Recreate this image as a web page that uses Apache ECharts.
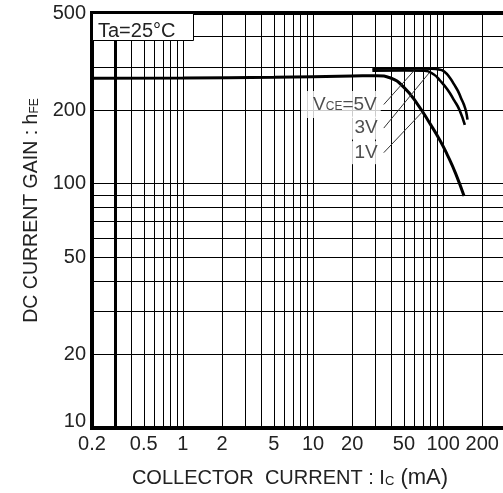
<!DOCTYPE html>
<html>
<head>
<meta charset="utf-8">
<script src="https://cdn.jsdelivr.net/npm/echarts@6/dist/echarts.min.js"></script>
<style>
html, body { margin: 0; padding: 0; background: #fff; }
#chart { width: 503px; height: 493px; }
</style>
</head>
<body>
<div id="chart"></div>
<script>
// tick labels and grid line values
var xTickLabels = [0.2, 0.5, 1, 2, 5, 10, 20, 50, 100, 200];
var yTickLabels = [10, 20, 50, 100, 200, 500];
var xGridValues = [0.3, 0.4, 0.5, 0.6, 0.7, 0.8, 0.9, 1, 2, 3, 4, 5, 6, 7, 8, 9,
  10, 20, 30, 40, 50, 60, 70, 80, 90, 100, 200, 300, 400];
var yGridValues = [20, 30, 40, 50, 60, 70, 80, 90, 100, 200, 300, 400];

// hFE curves (Ic in mA)
var ic1V = [0.2, 1, 5, 20, 31, 39.5, 50, 63.5, 80, 95, 108, 125, 145];
var hfe1V = [270, 271, 273, 276, 277, 271, 248, 212, 175, 150, 131, 110, 89];
var ic3V = [28.6, 50, 72, 85, 95, 108, 122, 134, 147];
var hfe3V = [290, 291, 290, 280, 264, 243, 219, 200, 174];
var ic5V = [28.6, 50, 80, 95, 102, 112, 121.5, 130, 137, 145, 150, 154];
var hfe5V = [296, 297, 296, 293, 288, 273, 255, 240, 225, 210, 198, 183];

// leader lines from labels to curves
var leader5V = [[35, 211], [60, 291]];
var leader3V = [[35, 169], [78, 284]];
var leader1V = [[35, 134], [70, 198]];

var font = 'Liberation Sans, Arial, sans-serif';
var txt = '#222';

function zip(xs, ys) {
  return xs.map(function (x, i) { return [x, ys[i]]; });
}
function fmt(v) {
  return String(+(+v).toPrecision(6));
}

var chart = echarts.init(document.getElementById('chart'));

chart.setOption({
  animation: false,
  textStyle: { fontFamily: font },
  title: {
    text: 'Ta=25°C',
    left: 92,
    top: 13,
    backgroundColor: '#fff',
    borderColor: '#000',
    borderWidth: 1,
    padding: [8, 18, 0, 6],
    textStyle: { fontSize: 20, lineHeight: 20, fontWeight: 'normal', color: txt, fontFamily: font }
  },
  grid: {
    left: 92,
    top: 13,
    right: -31,
    bottom: 65,
    outerBoundsMode: 'none',
    containLabel: false,
    show: true,
    borderColor: '#000',
    borderWidth: 4
  },
  xAxis: {
    type: 'log',
    logBase: 10,
    min: 0.2,
    max: 500,
    axisLine: { show: false },
    axisTick: { show: false, customValues: xGridValues },
    axisLabel: {
      customValues: xTickLabels,
      formatter: fmt,
      fontSize: 20,
      color: txt,
      margin: 6
    },
    splitLine: { show: true, lineStyle: { color: '#000', width: 1 } },
    name: '{t|COLLECTOR  CURRENT : I}{s|C}{p| (mA)}',
    nameLocation: 'middle',
    nameGap: 39,
    nameTextStyle: {
      padding: [0, 46, 0, 0],
      rich: {
        t: { fontSize: 20, color: txt, fontFamily: font },
        s: { fontSize: 13, color: txt, fontFamily: font, padding: [6, 0, 0, 0] },
        p: { fontSize: 22, color: txt, fontFamily: font }
      }
    }
  },
  yAxis: {
    type: 'log',
    logBase: 10,
    min: 10,
    max: 500,
    axisLine: { show: false },
    axisTick: { show: false, customValues: yGridValues },
    axisLabel: {
      customValues: yTickLabels,
      formatter: function (v) {
        var s = fmt(v);
        return s === '10' ? '{lo|10}' : s;
      },
      fontSize: 20,
      color: txt,
      margin: 6,
      rich: { lo: { fontSize: 20, color: txt, padding: [0, 0, 14, 0] } }
    },
    splitLine: { show: true, lineStyle: { color: '#000', width: 1 } },
    name: '{t|DC CURRENT GAIN : h}{s|FE}',
    nameLocation: 'middle',
    nameGap: 47,
    nameTextStyle: {
      padding: [0, 0, 0, 20],
      rich: {
        t: { fontSize: 19.5, color: txt, fontFamily: font },
        s: { fontSize: 12, color: txt, fontFamily: font, padding: [5, 0, 0, 0] }
      }
    }
  },
  series: [
    {
      name: '1V', type: 'line', data: zip(ic1V, hfe1V), smooth: true, showSymbol: false,
      lineStyle: { color: '#000', width: 3 }, z: 3,
      markLine: {
        silent: true, symbol: 'none', label: { show: false },
        lineStyle: { color: '#000', width: 3, type: 'solid' },
        data: [{ xAxis: 0.3 }]
      }
    },
    {
      name: '3V', type: 'line', data: zip(ic3V, hfe3V), smooth: true, showSymbol: false,
      lineStyle: { color: '#000', width: 2.6 }, z: 3
    },
    {
      name: '5V', type: 'line', data: zip(ic5V, hfe5V), smooth: true, showSymbol: false,
      lineStyle: { color: '#000', width: 2.6 }, z: 3
    },
    { type: 'line', data: leader5V, showSymbol: false, lineStyle: { color: '#333', width: 1 }, z: 4 },
    { type: 'line', data: leader3V, showSymbol: false, lineStyle: { color: '#333', width: 1 }, z: 4 },
    { type: 'line', data: leader1V, showSymbol: false, lineStyle: { color: '#333', width: 1 }, z: 4 },
    {
      type: 'scatter',
      symbolSize: 0,
      z: 5,
      data: [
        { value: leader5V[0], label: { formatter: '{m|V}{s|CE}{m|=5V}', padding: [4, 4, 4, 12] } },
        { value: leader3V[0], label: { formatter: '{m|3V}', padding: [2, 3, 2, 3] } },
        { value: leader1V[0], label: { formatter: '{m|1V}', padding: [2, 3, 2, 3] } }
      ],
      label: {
        show: true,
        position: 'left',
        distance: 3,
        backgroundColor: '#fff',
        rich: {
          m: { fontSize: 19, color: txt, fontFamily: font },
          s: { fontSize: 12, color: txt, fontFamily: font, padding: [5, 0, 0, 0] }
        }
      }
    }
  ]
});
</script>
</body>
</html>
